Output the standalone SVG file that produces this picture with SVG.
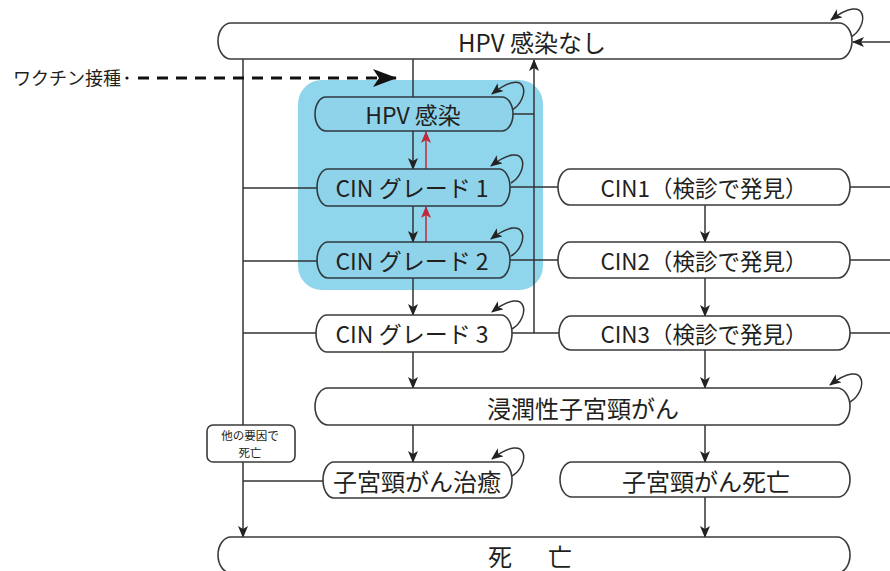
<svg xmlns="http://www.w3.org/2000/svg" width="890" height="571" viewBox="0 0 890 571">
<style>
text{font-family:"Noto Sans CJK JP","Noto Sans",sans-serif;fill:#231f20;text-anchor:middle;dominant-baseline:central}
.n{fill:#fff;stroke:#3a3a3a;stroke-width:1.6}
.b{fill:#8fd3ea;stroke:#2f3a40;stroke-width:1.6}
.l{fill:none;stroke:#333;stroke-width:1.5}
.a{fill:none;stroke:#333;stroke-width:1.5;marker-end:url(#ah)}
.r{fill:none;stroke:#c0283a;stroke-width:1.5;marker-end:url(#ahr)}
.t24{font-size:24px}.t23{font-size:23px}.t22{font-size:22.5px}
.s{font-size:11.5px}
</style>
<defs>
<marker id="ah" markerWidth="12" markerHeight="10" refX="11" refY="5" orient="auto" markerUnits="userSpaceOnUse"><path d="M0,0 L12,5 L0,10 L3,5 Z" fill="#222"/></marker>
<marker id="ahr" markerWidth="12" markerHeight="10" refX="11" refY="5" orient="auto" markerUnits="userSpaceOnUse"><path d="M0,0 L12,5 L0,10 L3,5 Z" fill="#c0283a"/></marker>
<marker id="big" markerWidth="24" markerHeight="18" refX="23" refY="9" orient="auto" markerUnits="userSpaceOnUse"><path d="M0,0 L24,9 L0,18 L6,9 Z" fill="#111"/></marker>
</defs>
<rect x="298" y="80" width="245" height="210" rx="24" fill="#8fd5ec"/>
<g id="connectors">
<path class="l" d="M413 59 V97"/>
<path class="a" d="M243 59 V537"/>
<path class="a" d="M534 333 V60"/>
<path class="l" d="M513 114 H534"/>
<path class="a" d="M413 131 V169"/>
<path class="a" d="M413 206 V242"/>
<path class="a" d="M413 278 V315"/>
<path class="a" d="M413 352 V388"/>
<path class="a" d="M413 425 V462"/>
<path class="r" d="M426 169 V132"/>
<path class="r" d="M426 242 V207"/>
<path class="a" d="M705 205 V242"/>
<path class="a" d="M705 278 V316"/>
<path class="a" d="M705 350 V388"/>
<path class="a" d="M705 425 V462"/>
<path class="a" d="M705 497 V537"/>
<path class="l" d="M510 187 H558 M510 260 H558 M512 333 H559"/>
<path class="l" d="M850 187 H890 M850 260 H890 M850 333 H890"/>
<path class="a" d="M890 42 H853"/>
<path class="l" d="M243 188 H317 M243 261 H317 M243 333 H316 M243 481 H323"/>
<path class="a" d="M851 37 C869 27,869 -9,831 20"/>
<path class="a" d="M512 110 C530 100,530 64,492 94"/>
<path class="a" d="M511 183 C529 173,529 137,491 166"/>
<path class="a" d="M511 256 C529 246,529 210,491 239"/>
<path class="a" d="M512 329 C530 319,530 283,492 312"/>
<path class="a" d="M512 476 C530 466,530 430,492 459"/>
<path class="a" d="M850 402 C868 392,868 356,830 385"/>
<path d="M138 78 H396" fill="none" stroke="#111" stroke-width="3" stroke-dasharray="11 8" marker-end="url(#big)"/>
<circle cx="127" cy="78" r="1.6" fill="#111"/>
</g>
<g id="vaccine"><text x="67" y="77" style="font-size:18px">ワクチン接種</text></g>
<g id="no-hpv"><rect class="n" x="218" y="23" width="634" height="36" rx="13" ry="18"/><text class="t24" x="532" y="41">HPV 感染なし</text></g>
<g id="hpv"><rect class="b" x="315" y="97" width="198" height="34" rx="11" ry="17"/><text class="t23" x="413" y="114">HPV 感染</text></g>
<g id="cin1"><rect class="b" x="317" y="169" width="193" height="37" rx="11" ry="18.5"/><text class="t23" x="412" y="187">CIN グレード 1</text></g>
<g id="cin2"><rect class="b" x="317" y="242" width="193" height="36" rx="11" ry="18"/><text class="t23" x="412" y="260">CIN グレード 2</text></g>
<g id="cin3"><rect class="n" x="316" y="315" width="196" height="37" rx="11" ry="18.5"/><text class="t23" x="412" y="333">CIN グレード 3</text></g>
<g id="cin1d"><rect class="n" x="558" y="169" width="292" height="36" rx="12" ry="18"/><text class="t22" x="704" y="187">CIN1（検診で発見）</text></g>
<g id="cin2d"><rect class="n" x="558" y="242" width="292" height="36" rx="12" ry="18"/><text class="t22" x="704" y="260">CIN2（検診で発見）</text></g>
<g id="cin3d"><rect class="n" x="559" y="316" width="291" height="34" rx="12" ry="17"/><text class="t22" x="704" y="333">CIN3（検診で発見）</text></g>
<g id="invasive"><rect class="n" x="315" y="388" width="535" height="37" rx="13" ry="18.5"/><text class="t24" x="583" y="407">浸潤性子宮頸がん</text></g>
<g id="cured"><rect class="n" x="323" y="462" width="189" height="36" rx="11" ry="18"/><text class="t24" x="417" y="480">子宮頸がん治癒</text></g>
<g id="cancer-death"><rect class="n" x="560" y="462" width="290" height="35" rx="12" ry="17.5"/><text class="t24" x="706" y="480">子宮頸がん死亡</text></g>
<g id="other-death"><rect class="n" x="207" y="425" width="88" height="37" rx="6"/><text class="s" x="250" y="434.5">他の要因で</text><text class="s" x="250" y="452">死亡</text></g>
<g id="death"><rect class="n" x="218" y="537" width="632" height="36" rx="13" ry="18"/><text class="t24" x="533" y="555" style="letter-spacing:6px">死　亡</text></g>
</svg>
